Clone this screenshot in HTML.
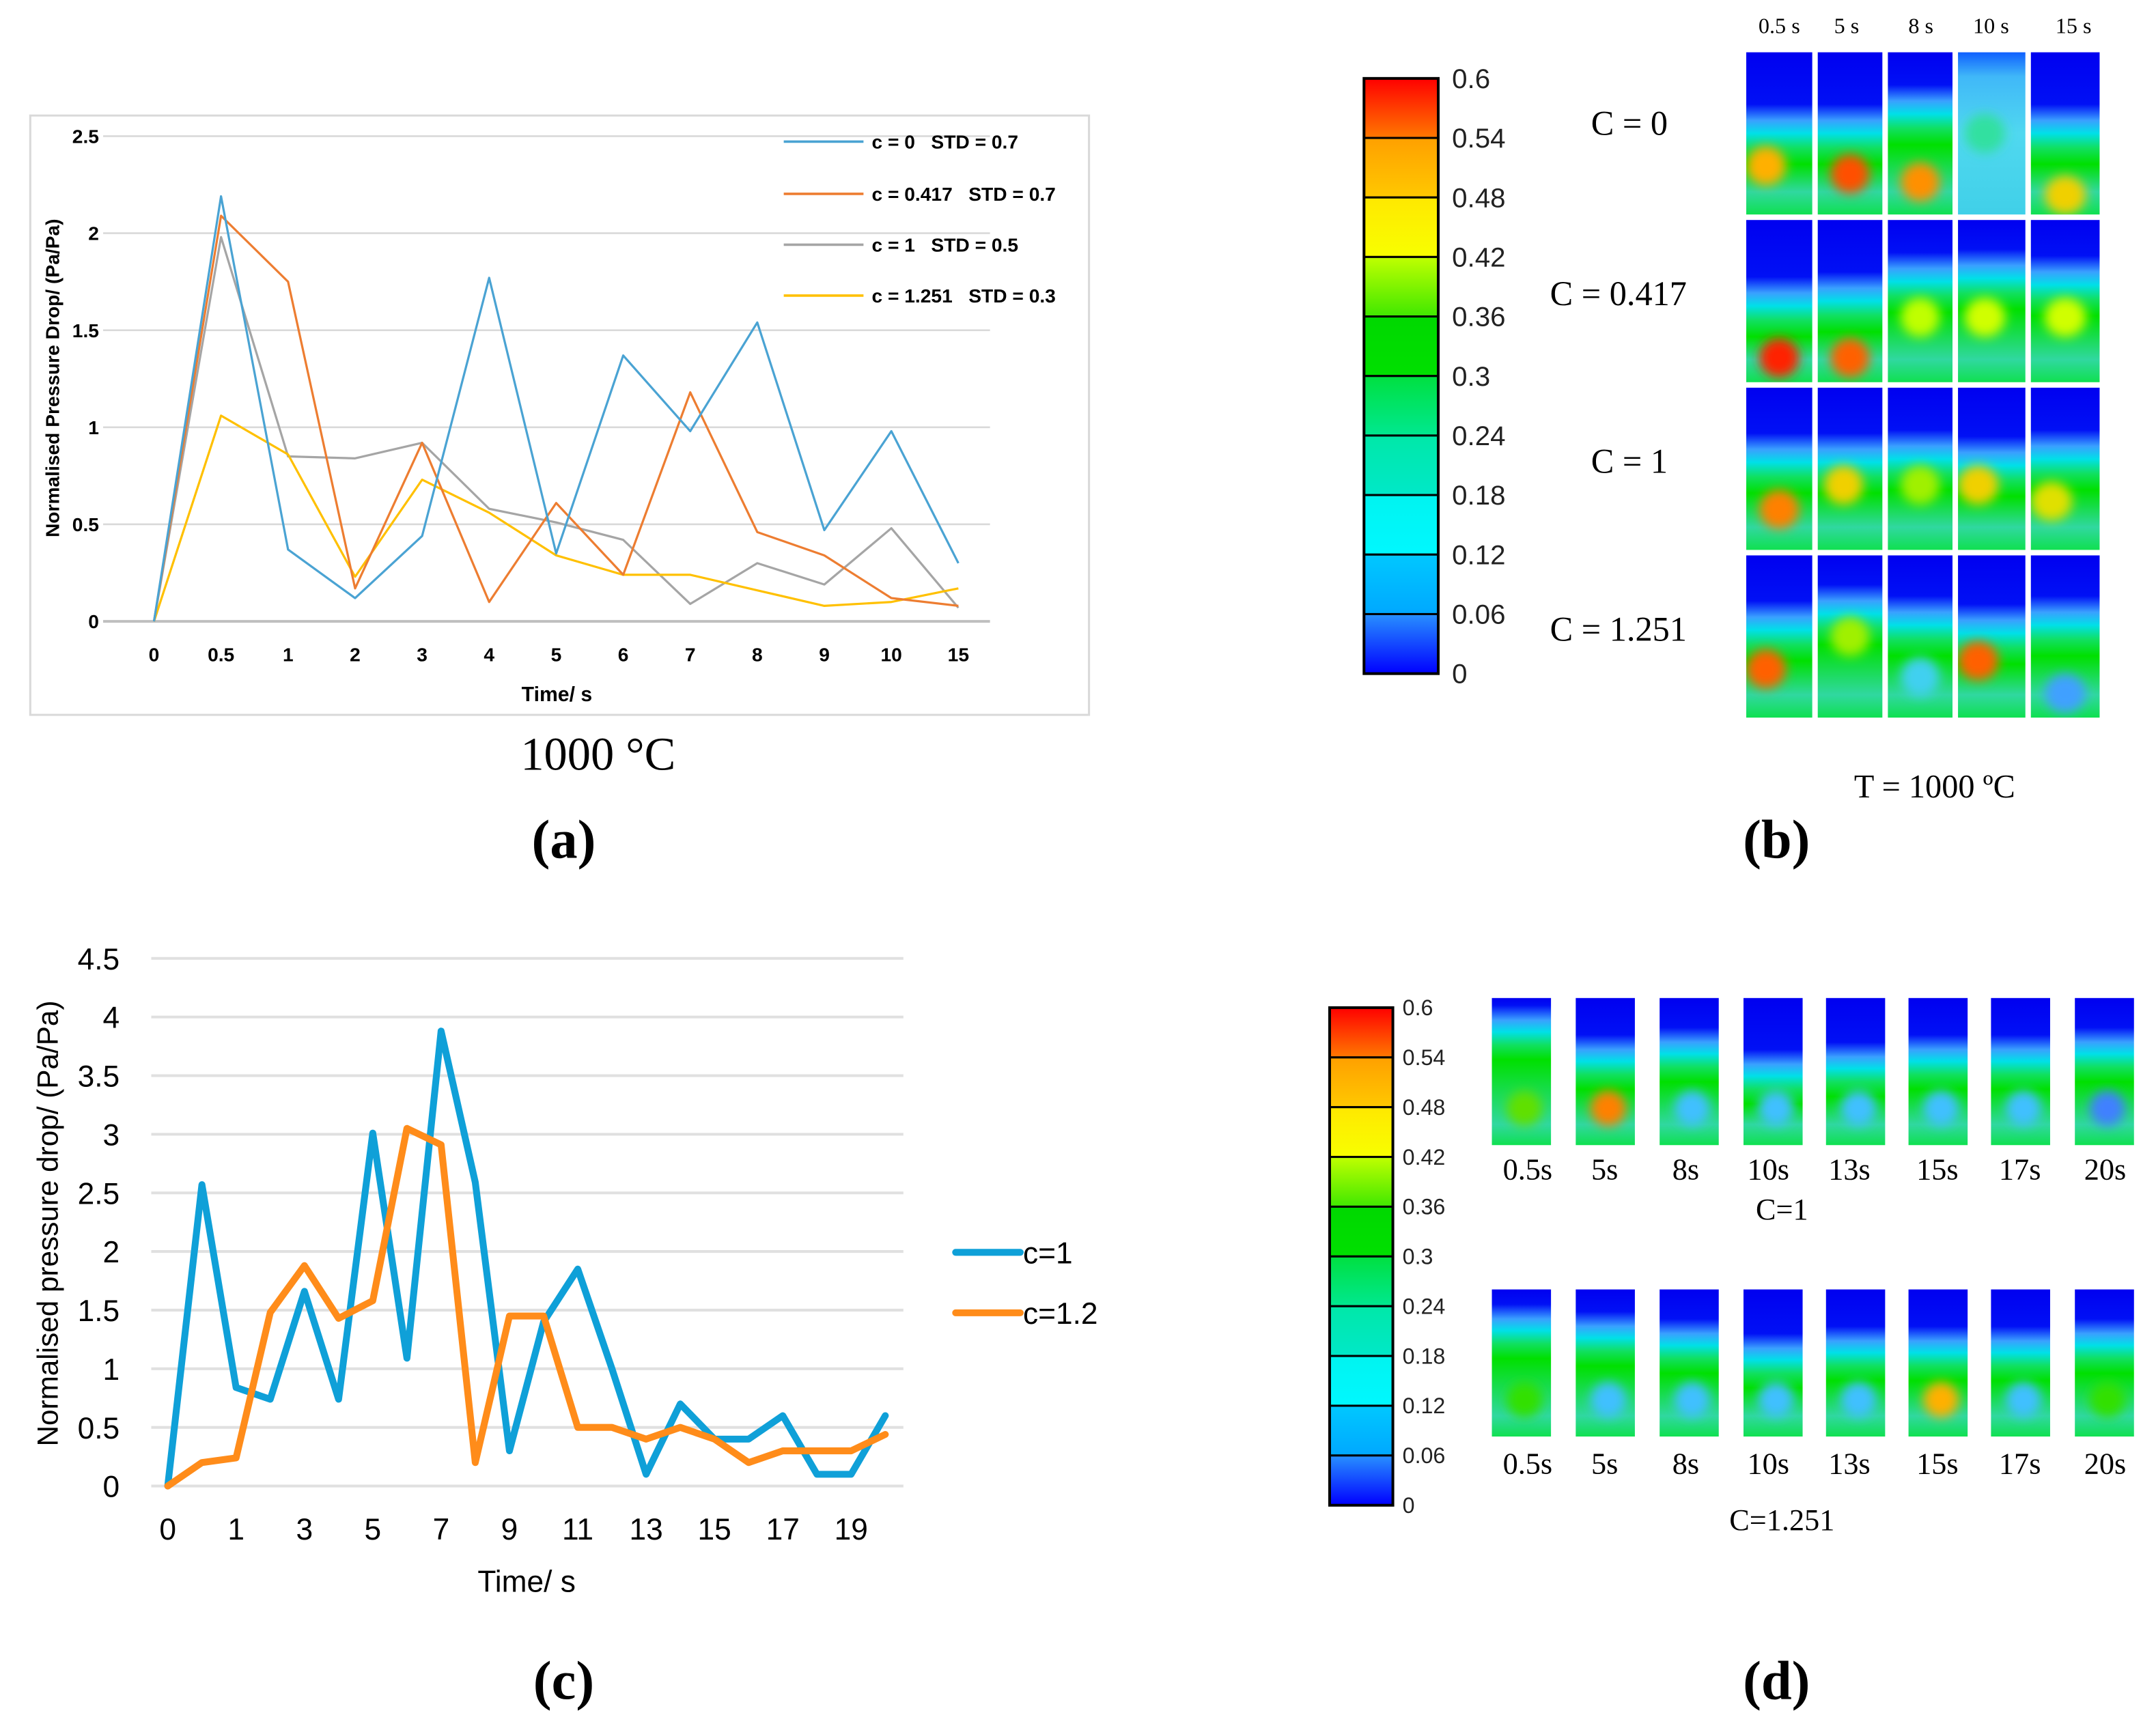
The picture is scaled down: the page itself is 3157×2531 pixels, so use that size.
<!DOCTYPE html>
<html><head><meta charset="utf-8">
<style>
html,body{margin:0;padding:0;background:#fff;}
svg{display:block;}
.ser{font-family:"Liberation Serif",serif;}
.nar{font-family:"Liberation Sans Narrow","Liberation Sans",sans-serif;}
.san{font-family:"Liberation Sans",sans-serif;}
.pre{white-space:pre;}
</style></head>
<body>
<svg id="fig" width="3157" height="2531" viewBox="0 0 1568 1257" xmlns="http://www.w3.org/2000/svg">
<defs>
<filter id="blur" x="-50%" y="-50%" width="200%" height="200%"><feGaussianBlur stdDeviation="4"/></filter>
</defs>
<rect width="1568" height="1257" fill="#fff"/>
<g id="pa"></g>
<g id="pb"></g>
<g id="pc"></g>
<g id="pd"></g>
<text class="ser" x="435" y="560" font-size="34" text-anchor="middle">1000 °C</text>
<text class="ser" x="410" y="624" font-size="40" font-weight="bold" text-anchor="middle">(a)</text>
<text class="ser" x="1292" y="624" font-size="40" font-weight="bold" text-anchor="middle">(b)</text>
<text class="ser" x="410" y="1236" font-size="40" font-weight="bold" text-anchor="middle">(c)</text>
<text class="ser" x="1292" y="1236" font-size="40" font-weight="bold" text-anchor="middle">(d)</text>
</svg>
<script>
const NS='http://www.w3.org/2000/svg';
function mk(parent,tag,attrs,text){const e=document.createElementNS(NS,tag);for(const k in attrs)e.setAttribute(k,attrs[k]);if(text!==undefined)e.textContent=text;parent.appendChild(e);return e;}

// ---------- Panel A data ----------
const aCategories=['0','0.5','1','2','3','4','5','6','7','8','9','10','15'];
const aYTicks=[0,0.5,1,1.5,2,2.5];
const aC0=[0,2.19,0.37,0.12,0.44,1.77,0.35,1.37,0.98,1.54,0.47,0.98,0.30];
const aC0417=[0,2.09,1.75,0.17,0.92,0.10,0.61,0.24,1.18,0.46,0.34,0.12,0.08];
const aC1=[0,1.98,0.85,0.84,0.92,0.58,0.51,0.42,0.09,0.30,0.19,0.48,0.07];
const aC1251=[0,1.06,0.86,0.23,0.73,0.56,0.34,0.24,0.24,0.16,0.08,0.10,0.17];
const aNames=['c = 0   STD = 0.7','c = 0.417   STD = 0.7','c = 1   STD = 0.5','c = 1.251   STD = 0.3'];

// ---------- Panel C data ----------
const cCategories=['0','0.5','1','2','3','4','5','6','7','8','9','10','11','12','13','14','15','16','17','18','19','20'];
const cYTicks=[0,0.5,1,1.5,2,2.5,3,3.5,4,4.5];
const cC1=[0,2.57,0.84,0.74,1.66,0.74,3.01,1.09,3.88,2.59,0.30,1.40,1.85,1.0,0.10,0.70,0.40,0.40,0.60,0.10,0.10,0.60];
const cC12=[0,0.20,0.24,1.48,1.88,1.43,1.58,3.05,2.91,0.20,1.45,1.45,0.50,0.50,0.40,0.50,0.40,0.20,0.30,0.30,0.30,0.44];

// ---------- Panel A ----------
(function(){
 const g=document.getElementById('pa');
 const fr=mk(g,'rect',{x:22,y:84,width:770,height:436,fill:'#fff',stroke:'#d9d9d9','stroke-width':1.5});
 
 
 const x0=112,dx=48.75,y0=452,ky=141.2;
 const X=i=>x0+i*dx, Y=v=>y0-v*ky;
 aYTicks.forEach(t=>{
  const l=mk(g,'line',{x1:75,x2:720,y1:Y(t),y2:Y(t),stroke:t===0?'#bfbfbf':'#d9d9d9','stroke-width':t===0?2:1.3});
  
  
  const tx=mk(g,'text',{x:72,y:Y(t)+5,'font-size':14,'font-weight':'bold','text-anchor':'end',class:'nar'},String(t));
  
  
 });
 aCategories.forEach((c,i)=>{
  const tx=mk(g,'text',{x:X(i),y:481,'font-size':14,'font-weight':'bold','text-anchor':'middle',class:'nar'},c);
  
  
 });
 const yt=mk(g,'text',{x:0,y:0,'font-size':14,'font-weight':'bold','text-anchor':'middle',class:'san',transform:'translate(43,275) rotate(-90)'},'Normalised Pressure Drop/ (Pa/Pa)');
 
 
 const xt=mk(g,'text',{x:405,y:510,'font-size':15,'font-weight':'bold','text-anchor':'middle',class:'nar'},'Time/ s');
 
 
 const series=[aC0,aC0417,aC1,aC1251];
 const cols=['#4aa3d3','#ed7d31','#a5a5a5','#ffc000'];
 const order=[2,3,1,0];
 order.forEach(k=>{
  const p=mk(g,'polyline',{points:series[k].map((v,i)=>X(i)+','+Y(v)).join(' '),fill:'none',stroke:cols[k],'stroke-width':1.6,'stroke-linejoin':'round'});
  
  
 });
 const ly=[103,141,178,215];
 aNames.forEach((n,k)=>{
  const l=mk(g,'line',{x1:570,x2:628,y1:ly[k],y2:ly[k],stroke:cols[k],'stroke-width':1.8});
  
  
  const t=mk(g,'text',{x:634,y:ly[k]+5,'font-size':14,'font-weight':'bold',class:'nar pre'},n);
  
  
 });
})();

// ---------- Panel C ----------
(function(){
 const g=document.getElementById('pc');
 const x0=122,dx=24.85,y0=1081,ky=85.3;
 const X=i=>x0+i*dx, Y=v=>y0-v*ky;
 cYTicks.forEach(t=>{
  const l=mk(g,'line',{x1:110,x2:657,y1:Y(t),y2:Y(t),stroke:'#e0e0e0','stroke-width':2});
  
  
  const tx=mk(g,'text',{x:87,y:Y(t)+8,'font-size':22,'text-anchor':'end',class:'nar'},String(t));
  
  
 });
 cCategories.forEach((c,i)=>{
  if(i%2!==0)return;
  const tx=mk(g,'text',{x:X(i),y:1120,'font-size':22,'text-anchor':'middle',class:'nar'},c);
  
  
 });
 const yt=mk(g,'text',{x:0,y:0,'font-size':21,'text-anchor':'middle',class:'san',transform:'translate(42,890) rotate(-90)'},'Normalised pressure drop/ (Pa/Pa)');
 
 
 const xt=mk(g,'text',{x:383,y:1158,'font-size':22,'text-anchor':'middle',class:'nar'},'Time/ s');
 
 
 const p1=mk(g,'polyline',{points:cC1.map((v,i)=>X(i)+','+Y(v)).join(' '),fill:'none',stroke:'#0fa0d8','stroke-width':5,'stroke-linejoin':'round','stroke-linecap':'round'});
 
 
 const p2=mk(g,'polyline',{points:cC12.map((v,i)=>X(i)+','+Y(v)).join(' '),fill:'none',stroke:'#ff8c1a','stroke-width':5,'stroke-linejoin':'round','stroke-linecap':'round'});
 
 
 [['c=1','#0fa0d8',911],['c=1.2','#ff8c1a',955]].forEach(([n,c,y])=>{
  const l=mk(g,'line',{x1:695,x2:742,y1:y,y2:y,stroke:c,'stroke-width':5,'stroke-linecap':'round'});
  
  
  const t=mk(g,'text',{x:744,y:y+8,'font-size':22,class:'nar'},n);
  
  
 });
})();

// ---------- Colorbars ----------
const cbLabels=['0.6','0.54','0.48','0.42','0.36','0.3','0.24','0.18','0.12','0.06','0'];
const bandTop=['#ff0000','#ffa000','#ffe800','#c0ff00','#00d800','#00e040','#00e8a8','#00f4f0','#00c8ff','#2890ff'];
const bandBot=['#ff7800','#ffc800','#f8ff00','#40e800','#00e000','#00e890','#00e8c8','#00f8ff','#00a8ff','#0000ff'];
function colorbar(g,x,y,w,h,lx,fs,pref){
 const n=10, bh=h/n;
 const defs=mk(g,'defs',{});
 for(let i=0;i<n;i++){
  const gr=mk(defs,'linearGradient',{id:pref+i,x1:0,y1:0,x2:0,y2:1});
  mk(gr,'stop',{offset:0,'stop-color':bandTop[i]});
  mk(gr,'stop',{offset:1,'stop-color':bandBot[i]});
  const r=mk(g,'rect',{x:x,y:y+i*bh,width:w,height:bh,fill:'url(#'+pref+i+')',stroke:'#000','stroke-width':1.5});
  
  
 }
 const b=mk(g,'rect',{x:x,y:y,width:w,height:h,fill:'none',stroke:'#000','stroke-width':2});
 
 
 cbLabels.forEach((t,i)=>{
  const tx=mk(g,'text',{x:lx,y:y+i*bh+fs*0.35,'font-size':fs,class:'san',fill:'#222'},t);
  
  
 });
}

let tileId=0;
function tile(g,x,y,w,h,front,hot,hotX,hotY,cyanOnly){
 const id='tg'+(tileId++);
 const gr=mk(g,'linearGradient',{id:id,x1:0,y1:0,x2:0,y2:1});
 const st=cyanOnly?[[0,'#1060ff'],[0.15,'#40b8f8'],[0.5,'#50d8f0'],[1,'#40d0e8']]:
  [[0,'#0000f0'],[front-0.1,'#0010f5'],[front,'#3aa0ff'],[front+0.08,'#00e0e8'],[front+0.17,'#10e060'],[front+0.27,'#00e000'],[0.86,'#30d8a0'],[1,'#10e050']];
 st.forEach(([o,c])=>mk(gr,'stop',{offset:Math.max(0,Math.min(1,o)),'stop-color':c}));
 const cp=mk(g,'clipPath',{id:'c'+id});
 mk(cp,'rect',{x:x,y:y,width:w,height:h});
 const r=mk(g,'rect',{x:x,y:y,width:w,height:h,fill:'url(#'+id+')'});
 
 
 if(hot){
  const e=mk(g,'ellipse',{cx:x+w*hotX,cy:y+h*hotY,rx:w*0.3,ry:h*0.12,fill:hot,filter:'url(#blur)','clip-path':'url(#c'+id+')'});
  
  
 }
}

// ---------- Panel B ----------
(function(){
 const g=document.getElementById('pb');
 colorbar(g,992,57,54,433,1056,20,'cbb');
 const cols=[1270,1322,1373,1424,1477], cw=[48,47,47,49,50];
 const rows=[38,160,282,404], rh=118;
 const heads=['0.5 s','5 s','8 s','10 s','15 s'], hx=[1294,1343,1397,1448,1508];
 heads.forEach((t,i)=>{const tx=mk(g,'text',{x:hx[i],y:24,'font-size':16,'text-anchor':'middle',class:'ser'},t);
  });
 const rl=[['C = 0',1185,98],['C = 0.417',1177,222],['C = 1',1185,344],['C = 1.251',1177,466]];
 rl.forEach(([t,x,y])=>{const tx=mk(g,'text',{x:x,y:y,'font-size':25,'text-anchor':'middle',class:'ser'},t);
  });
 const fronts=[[0.42,0.42,0.30,0.05,0.42],[0.45,0.42,0.30,0.28,0.32],[0.38,0.38,0.36,0.40,0.36],[0.38,0.28,0.35,0.40,0.35]];
 const hots=[[['#ffb000',0.3,0.7],['#ff5000',0.5,0.75],['#ff9000',0.5,0.8],['#30e0a0',0.4,0.5],['#f0d000',0.5,0.88]],
  [['#ff2000',0.5,0.85],['#ff6000',0.5,0.85],['#c0ff00',0.5,0.6],['#d0ff00',0.4,0.6],['#d0ff00',0.5,0.6]],
  [['#ff8000',0.5,0.75],['#f0d000',0.4,0.6],['#a0f000',0.5,0.6],['#f0d000',0.3,0.6],['#e0e000',0.3,0.7]],
  [['#ff6000',0.3,0.7],['#a0f000',0.5,0.5],['#40d0f0',0.5,0.75],['#ff6000',0.3,0.65],['#40a0ff',0.5,0.85]]];
 rows.forEach((ry,r)=>cols.forEach((cx,c)=>{
  const h=hots[r][c];
  tile(g,cx,ry,cw[c],rh,fronts[r][c],h[0],h[1],h[2],r===0&&c===3);
 }));
 const t=mk(g,'text',{x:1407,y:580,'font-size':24,'text-anchor':'middle',class:'ser'},'T = 1000 ºC');
 
 
})();

// ---------- Panel D ----------
(function(){
 const g=document.getElementById('pd');
 colorbar(g,967,733,46,362,1020,16,'cbd');
 const cols=[1085,1146,1207,1268,1328,1388,1448,1509], w=43;
 const labs=['0.5s','5s','8s','10s','13s','15s','17s','20s'];
 const lx=[1111,1167,1226,1286,1345,1409,1469,1531];
 const rowsY=[726,938], rh=107, labY=[858,1072];
 const fr=[[0.15,0.35,0.3,0.45,0.4,0.35,0.35,0.3],[0.2,0.25,0.3,0.4,0.35,0.35,0.35,0.3]];
 const hot=[['#60e000','#ff8000','#40c0ff','#40c0ff','#40c0ff','#40c0ff','#40c0ff','#4080ff'],['#30e000','#40c0ff','#40c0ff','#40c0ff','#40c0ff','#ffb000','#40c0ff','#30e000']];
 rowsY.forEach((ry,r)=>{
  cols.forEach((cx,c)=>tile(g,cx,ry,w,rh,fr[r][c],hot[r][c],0.55,0.75,false));
  labs.forEach((t,i)=>{const tx=mk(g,'text',{x:lx[i],y:labY[r],'font-size':22,'text-anchor':'middle',class:'ser'},t);
   });
 });
 [['C=1',887],['C=1.251',1113]].forEach(([t,y])=>{const tx=mk(g,'text',{x:1296,y:y,'font-size':22,'text-anchor':'middle',class:'ser'},t);
  });
})();
</script>
</body></html>
